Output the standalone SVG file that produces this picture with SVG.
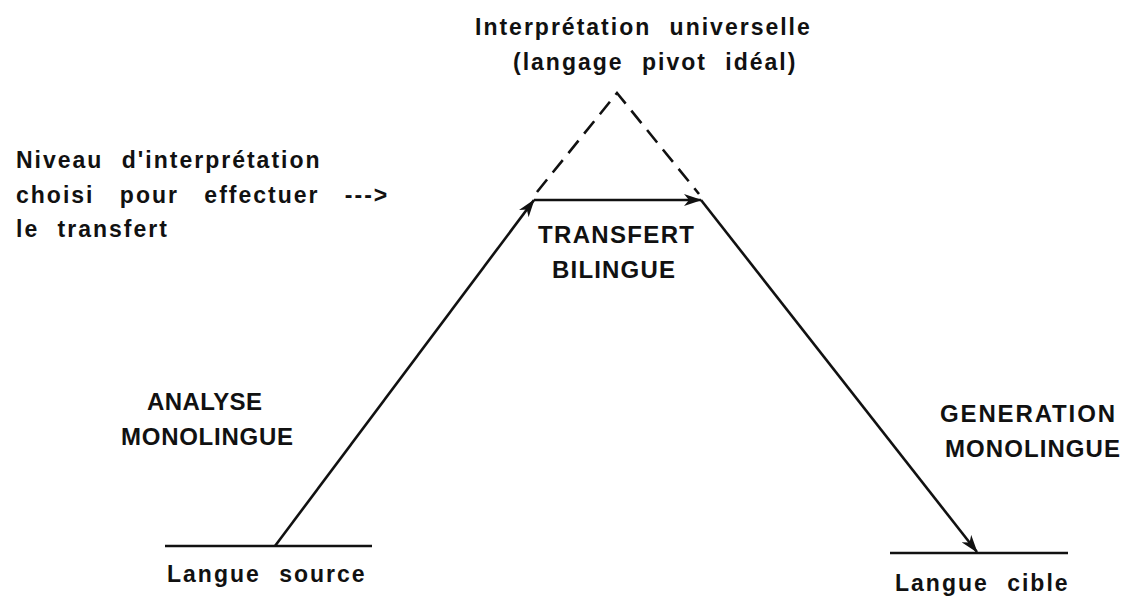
<svg xmlns="http://www.w3.org/2000/svg" width="1135" height="596" viewBox="0 0 1135 596">
<style>
text{font-family:"Liberation Sans",Arial,sans-serif;font-weight:bold;font-size:23px;fill:#111}
.t{letter-spacing:2px;word-spacing:10px}
.k{font-size:24px}
.l{stroke:#111;stroke-width:2.6;fill:none}
.d{stroke:#111;stroke-width:2.6;fill:none;stroke-dasharray:16 9}
</style>
<defs>
<marker id="ah" viewBox="0 0 18 12" refX="17" refY="6" markerWidth="18" markerHeight="12" markerUnits="userSpaceOnUse" orient="auto">
<path d="M0,0 L18,6 L0,12 L5,6 Z" fill="#111"/>
</marker>
</defs>
<rect width="1135" height="596" fill="#fff"/>
<g id="connectors">
<line class="l" x1="165" y1="546" x2="372" y2="546"/>
<line class="l" x1="890" y1="553" x2="1068" y2="553"/>
<line class="l" x1="275" y1="546" x2="534" y2="200" marker-end="url(#ah)"/>
<line class="l" x1="534" y1="200" x2="701" y2="200" marker-end="url(#ah)"/>
<line class="l" x1="701" y1="200" x2="977" y2="552" marker-end="url(#ah)"/>
<polyline class="d" points="537,192 617,93 699,194"/>
</g>
<g id="pivot"><text class="t" x="475" y="35">Interprétation universelle</text><text class="t" x="513" y="70">(langage pivot idéal)</text></g>
<g id="niveau"><text class="t" x="16" y="168">Niveau d'interprétation</text><text class="t" x="16" y="203" style="word-spacing:17px">choisi pour effectuer ---&gt;</text><text class="t" x="16" y="237">le transfert</text></g>
<g id="transfert"><text class="k" x="538" y="243" textLength="156" lengthAdjust="spacing">TRANSFERT</text><text class="k" x="552" y="278" textLength="123" lengthAdjust="spacing">BILINGUE</text></g>
<g id="analyse"><text class="k" x="147" y="410" textLength="115" lengthAdjust="spacing">ANALYSE</text><text class="k" x="121" y="445" textLength="172" lengthAdjust="spacing">MONOLINGUE</text></g>
<g id="generation"><text class="k" x="940" y="422" textLength="175" lengthAdjust="spacing">GENERATION</text><text class="k" x="945" y="457" textLength="175" lengthAdjust="spacing">MONOLINGUE</text></g>
<g id="source"><text class="t" x="167" y="582">Langue source</text></g>
<g id="cible"><text class="t" x="895" y="591">Langue cible</text></g>
</svg>
